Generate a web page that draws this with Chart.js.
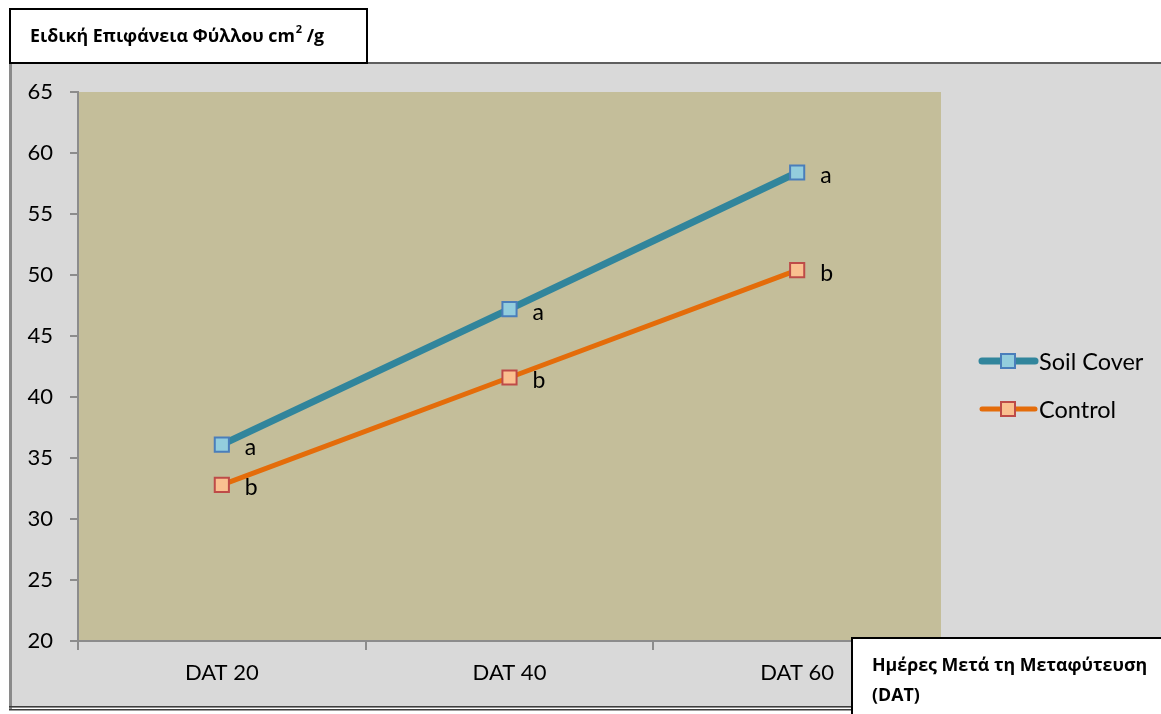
<!DOCTYPE html>
<html>
<head>
<meta charset="utf-8">
<script src="https://cdn.jsdelivr.net/npm/chart.js@4/dist/chart.umd.min.js"></script>
<style>
  html, body { margin: 0; padding: 0; background: #ffffff; }
  #wrap { width: 1161px; height: 714px; }
</style>
</head>
<body>
<div id="wrap"><canvas id="c" width="1161" height="714"></canvas></div>
<script>
// Days after transplanting
const categories = ['DAT 20', 'DAT 40', 'DAT 60'];
// Specific leaf area (cm²/g)
const soilCover = [36.1, 47.2, 58.4];
const control = [32.8, 41.6, 50.4];
// Significance letters per point
const soilLetters = ['a', 'a', 'a'];
const controlLetters = ['b', 'b', 'b'];
const seriesNames = ['Soil Cover', 'Control'];
const yMin = 20, yMax = 65, yStep = 5;
const titleMain = 'Ειδική Επιφάνεια Φύλλου cm';
const titleSup = '2';
const titleTail = ' /g';
const xTitleLines = ['Ημέρες Μετά τη Μεταφύτευση', '(DAT)'];

const W = 1161, H = 714;
const FONT = 'Lato, "Open Sans", sans-serif';
const GREEK = '"Open Sans", "Noto Sans", sans-serif';

const frame = {
  id: 'frame',
  beforeDraw(chart) {
    const { ctx, chartArea: a } = chart;
    ctx.save();
    ctx.fillStyle = '#ffffff';
    ctx.fillRect(0, 0, W, H);
    // outer chart panel
    ctx.fillStyle = '#D9D9D9';
    ctx.fillRect(10, 63, W - 10, 645);
    ctx.fillStyle = '#5f5f5f';
    ctx.fillRect(10, 62, W - 10, 2);
    ctx.fillStyle = '#8a8a8a';
    ctx.fillRect(9, 62, 3, 647);
    ctx.fillStyle = '#3c3c3c';
    ctx.fillRect(9, 706, W - 9, 1.5);
    ctx.fillRect(9, 709, W - 9, 1.5);
    // plot area
    ctx.fillStyle = '#C4BE9A';
    ctx.fillRect(a.left, a.top, a.right - a.left, a.bottom - a.top);
    ctx.restore();
  },
  afterDatasetsDraw(chart) {
    const { ctx } = chart;
    const letters = [soilLetters, controlLetters];
    ctx.save();
    ctx.font = '23px ' + FONT;
    ctx.fillStyle = '#000000';
    ctx.textAlign = 'left';
    ctx.textBaseline = 'middle';
    chart.data.datasets.forEach((ds, di) => {
      chart.getDatasetMeta(di).data.forEach((pt, i) => {
        ctx.fillText(letters[di][i], pt.x + 23, pt.y + 3);
      });
    });
    ctx.restore();
  },
  afterDraw(chart) {
    const { ctx } = chart;
    ctx.save();
    // legend
    chart.data.datasets.forEach((ds, di) => {
      const y = 361 + di * 48;
      ctx.strokeStyle = ds.borderColor;
      ctx.lineWidth = ds.borderWidth;
      ctx.lineCap = 'round';
      ctx.beginPath();
      ctx.moveTo(982, y);
      ctx.lineTo(1035, y);
      ctx.stroke();
      ctx.fillStyle = ds.pointBackgroundColor;
      ctx.strokeStyle = ds.pointBorderColor;
      ctx.lineWidth = 2;
      ctx.fillRect(1001, y - 7, 14, 14);
      ctx.strokeRect(1001, y - 7, 14, 14);
      ctx.fillStyle = '#000000';
      ctx.font = '23.5px ' + FONT;
      ctx.textAlign = 'left';
      ctx.textBaseline = 'middle';
      ctx.fillText(ds.label, 1039, y + 1);
    });

    // title box
    ctx.fillStyle = '#ffffff';
    ctx.fillRect(9, 8, 358, 55);
    ctx.strokeStyle = '#000000';
    ctx.lineWidth = 2;
    ctx.strokeRect(10, 9, 357, 54);
    ctx.fillStyle = '#000000';
    ctx.textAlign = 'left';
    ctx.textBaseline = 'alphabetic';
    ctx.font = 'bold 17.8px ' + GREEK;
    let x = 30;
    ctx.fillText(titleMain, x, 42);
    x += ctx.measureText(titleMain).width + 1;
    ctx.font = 'bold 11px ' + GREEK;
    ctx.fillText(titleSup, x, 33);
    x += ctx.measureText(titleSup).width;
    ctx.font = 'bold 17.8px ' + GREEK;
    ctx.fillText(titleTail, x, 42);

    // x-axis title box
    ctx.fillStyle = '#ffffff';
    ctx.fillRect(851, 637, W - 851, H - 637);
    ctx.strokeStyle = '#000000';
    ctx.lineWidth = 2;
    ctx.beginPath();
    ctx.moveTo(852, H);
    ctx.lineTo(852, 638);
    ctx.lineTo(W, 638);
    ctx.stroke();
    ctx.fillStyle = '#000000';
    ctx.font = 'bold 17.8px ' + GREEK;
    ctx.fillText(xTitleLines[0], 872, 671);
    ctx.fillText(xTitleLines[1], 872, 701);
    ctx.restore();
  }
};

new Chart(document.getElementById('c'), {
  type: 'line',
  data: {
    labels: categories,
    datasets: [
      {
        label: seriesNames[0],
        data: soilCover,
        borderColor: '#31859C',
        borderWidth: 7,
        pointStyle: 'rect',
        pointRadius: 10,
        pointBackgroundColor: '#93CDDD',
        pointBorderColor: '#4A7EBB',
        pointBorderWidth: 2,
        tension: 0
      },
      {
        label: seriesNames[1],
        data: control,
        borderColor: '#E46C0A',
        borderWidth: 5,
        pointStyle: 'rect',
        pointRadius: 10,
        pointBackgroundColor: '#FAC090',
        pointBorderColor: '#BE4B48',
        pointBorderWidth: 2,
        tension: 0
      }
    ]
  },
  options: {
    responsive: false,
    animation: false,
    events: [],
    layout: { padding: { left: 0, right: 220, top: 92, bottom: 0 } },
    plugins: { legend: { display: false }, tooltip: { enabled: false } },
    scales: {
      x: {
        offset: true,
        afterFit(scale) { scale.height = 73; },
        grid: { offset: true, drawOnChartArea: false, drawTicks: true, tickLength: 9, color: '#8C8C8C', lineWidth: 2 },
        border: { color: '#8C8C8C', width: 2 },
        ticks: { color: '#000000', font: { family: FONT, size: 22 }, padding: 10, maxRotation: 0 }
      },
      y: {
        min: yMin,
        max: yMax,
        afterFit(scale) { scale.width = 78; },
        grid: { drawOnChartArea: false, drawTicks: true, tickLength: 8, color: '#8C8C8C', lineWidth: 2 },
        border: { color: '#8C8C8C', width: 2 },
        ticks: { stepSize: yStep, color: '#000000', font: { family: FONT, size: 22 }, padding: 17 }
      }
    }
  },
  plugins: [frame]
});
</script>
</body>
</html>
